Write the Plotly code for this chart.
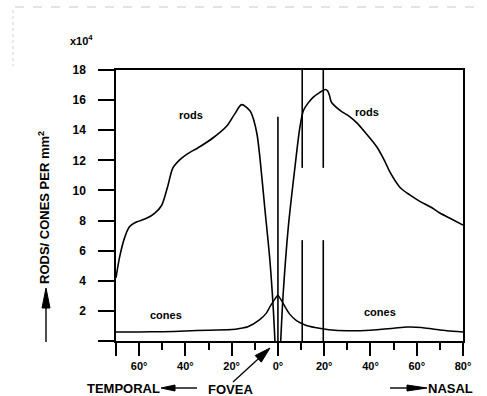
import math
import plotly.graph_objects as go

# ---------------- data ----------------
rods_temporal_deg = [-70, -68.4, -66.2, -64.1, -61.2, -56.8, -53.2, -50.3, -47.6, -45.4, -42, -39.4,
                     -33.8, -28, -22, -18.6, -15.7, -12.1, -10.5, -9, -7.8, -5.6, -3.5, -2, -1.3]
rods_temporal_val = [4.2, 5.6, 6.9, 7.6, 7.9, 8.15, 8.5, 9.0, 10.3, 11.5, 12.1, 12.4,
                     12.9, 13.5, 14.3, 15.1, 15.7, 15.3, 14.7, 13.7, 12.2, 8.7, 5.4, 2.1, 0]

rods_nasal_deg = [1.2, 2.3, 4.5, 7.4, 9.5, 11, 13, 15.3, 18, 20.5, 21.5, 22.3, 23, 24, 27, 31, 34,
                  38, 42.7, 46, 48.5, 52.8, 57, 61.5, 66, 70, 75, 80]
rods_nasal_val = [0, 3.2, 7.6, 11.6, 14.2, 15.3, 15.8, 16.2, 16.5, 16.7, 16.6, 16.3, 15.9, 15.7, 15.3,
                  14.9, 14.5, 13.8, 12.9, 12.0, 11.2, 10.2, 9.7, 9.26, 8.9, 8.5, 8.1, 7.7]

cones_deg = [-70, -60, -50, -40, -30, -20, -16, -13, -8, -5, -3.5, -1.5, 0,
             1.5, 3, 5, 8, 12, 16, 22, 30, 40, 50, 56, 62, 67, 73, 80]
cones_val = [0.6, 0.6, 0.62, 0.66, 0.72, 0.76, 0.85, 0.95, 1.4, 1.85, 2.26, 2.75, 3.05,
             2.7, 2.3, 1.8, 1.35, 1.05, 0.9, 0.75, 0.68, 0.72, 0.85, 0.93, 0.9, 0.8, 0.68, 0.6]

fovea_deg = 0
fovea_line_top = 14.9
disc_edges_deg = [10.5, 19.6]
disc_gap = [6.7, 11.5]   # vertical lines interrupted between these values

y_ticks = [0, 2, 4, 6, 8, 10, 12, 14, 16, 18]
y_ticklabels = ["", "2", "4", "6", "8", "10", "12", "14", "16", "18"]
x_major = [-70, -60, -40, -20, 0, 20, 40, 60, 80]
x_major_labels = ["", "60°", "40°", "20°", "0°", "20°", "40°", "60°", "80°"]
x_minor = [-50, -30, -10, 10, 30, 50, 70]
x_range = [-70, 80]
y_range = [0, 18]

# ---------------- figure ----------------
W, H = 487, 396
L, R, T, B = 116, 24, 70, 55
PW, PH = W - L - R, H - T - B


def px(x):
    return (x - L) / PW


def py(y):
    return (H - B - y) / PH


FONT = "Liberation Sans, Arial, sans-serif"
line = dict(color="black", width=1.6)

fig = go.Figure()
fig.add_trace(go.Scatter(x=rods_temporal_deg, y=rods_temporal_val, mode="lines",
                         line=dict(color="black", width=1.6, shape="spline", smoothing=0.8)))
fig.add_trace(go.Scatter(x=rods_nasal_deg, y=rods_nasal_val, mode="lines",
                         line=dict(color="black", width=1.6, shape="spline", smoothing=0.8)))
ipk = cones_val.index(max(cones_val))
fig.add_trace(go.Scatter(x=cones_deg[:ipk + 1], y=cones_val[:ipk + 1], mode="lines",
                         line=dict(color="black", width=1.5, shape="spline", smoothing=0.8)))
fig.add_trace(go.Scatter(x=cones_deg[ipk:], y=cones_val[ipk:], mode="lines",
                         line=dict(color="black", width=1.5, shape="spline", smoothing=0.8)))
# fovea line
fig.add_trace(go.Scatter(x=[fovea_deg, fovea_deg], y=[y_range[0], fovea_line_top], mode="lines", line=line))
# optic disc lines
for d in disc_edges_deg:
    fig.add_trace(go.Scatter(x=[d, d, None, d, d],
                             y=[y_range[0], disc_gap[0], None, disc_gap[1], y_range[1]],
                             mode="lines", line=line))

fig.update_layout(
    width=W, height=H, showlegend=False,
    margin=dict(l=L, r=R, t=T, b=B, pad=0),
    paper_bgcolor="white", plot_bgcolor="white",
    font=dict(family=FONT, color="black"),
    xaxis=dict(range=x_range, showgrid=False, zeroline=False, showline=True, mirror=True,
               linecolor="black", linewidth=1.5, ticks="outside", ticklen=13, tickwidth=1.5,
               tickcolor="black", tickmode="array", tickvals=x_major, ticktext=x_major_labels,
               tickfont=dict(size=11, weight="bold"), ticklabelstandoff=1,
               minor=dict(tickvals=x_minor, ticks="outside", ticklen=7, tickwidth=1.5, tickcolor="black")),
    yaxis=dict(range=y_range, showgrid=False, zeroline=False, showline=True, mirror=True,
               linecolor="black", linewidth=1.5, ticks="outside", ticklen=16, tickwidth=1.5,
               tickcolor="black", tickmode="array", tickvals=y_ticks, ticktext=y_ticklabels,
               tickfont=dict(size=12, weight="bold"), ticklabelstandoff=10),
)

ann = []
bold = lambda s: dict(family=FONT, size=s, color="black", weight="bold")


def label(x, y, text, size, ref="paper", **kw):
    d = dict(x=x, y=y, xref=ref, yref=ref if ref == "paper" else "y", text=text, showarrow=False,
             font=bold(size), xanchor="center", yanchor="middle")
    if ref != "paper":
        d["xref"] = "x"
    d.update(kw)
    ann.append(d)


label(px(81), py(40), "x10<sup>4</sup>", 11)
label(px(44), py(208), "RODS/ CONES PER mm<sup>2</sup>", 13, textangle=-90)
# curve labels
label(-37.4, 15.0, "rods", 11, ref="data")
label(38.4, 15.2, "rods", 11, ref="data")
label(-48.5, 1.73, "cones", 11, ref="data")
label(44.2, 1.93, "cones", 11, ref="data")
# bottom labels
label(px(123.5), py(388), "TEMPORAL", 13)
label(px(230), py(389), "FOVEA", 13)
label(px(450), py(388), "NASAL", 13)
fig.update_layout(annotations=ann)


def arrow(tx, ty, hx, hy, hlen, hwid, width=1.4):
    """Arrow from tail (tx,ty) to head (hx,hy) in page pixels, drawn as paper shapes."""
    dx, dy = hx - tx, hy - ty
    n = math.hypot(dx, dy)
    ux, uy = dx / n, dy / n
    bx, by = hx - ux * hlen, hy - uy * hlen
    nx, ny = -uy, ux
    fig.add_shape(type="line", xref="paper", yref="paper",
                  x0=px(tx), y0=py(ty), x1=px(bx + ux), y1=py(by + uy),
                  line=dict(color="black", width=width))
    p1 = (bx + nx * hwid / 2, by + ny * hwid / 2)
    p2 = (bx - nx * hwid / 2, by - ny * hwid / 2)
    path = "M {} {} L {} {} L {} {} Z".format(px(hx), py(hy), px(p1[0]), py(p1[1]), px(p2[0]), py(p2[1]))
    fig.add_shape(type="path", xref="paper", yref="paper", path=path,
                  fillcolor="black", line=dict(color="black", width=1))


arrow(46, 342, 46, 288, 20, 8)          # up arrow by the y title
arrow(197, 388, 161, 388, 14, 6)       # TEMPORAL <-
arrow(233, 382, 270, 348, 16, 9, 1.3)  # FOVEA arrow
arrow(390, 388, 427, 388, 20, 6)       # -> NASAL

# faint scan remnants at the top/left edge
fig.add_shape(type="line", xref="paper", yref="paper", x0=px(15), x1=px(475), y0=py(7), y1=py(7),
              line=dict(color="#c8c8c8", width=1, dash="dash"))
fig.add_shape(type="line", xref="paper", yref="paper", x0=px(13), x1=px(13), y0=py(10), y1=py(66),
              line=dict(color="#d0d0d0", width=1, dash="dot"))

fig.write_html("out.html")
